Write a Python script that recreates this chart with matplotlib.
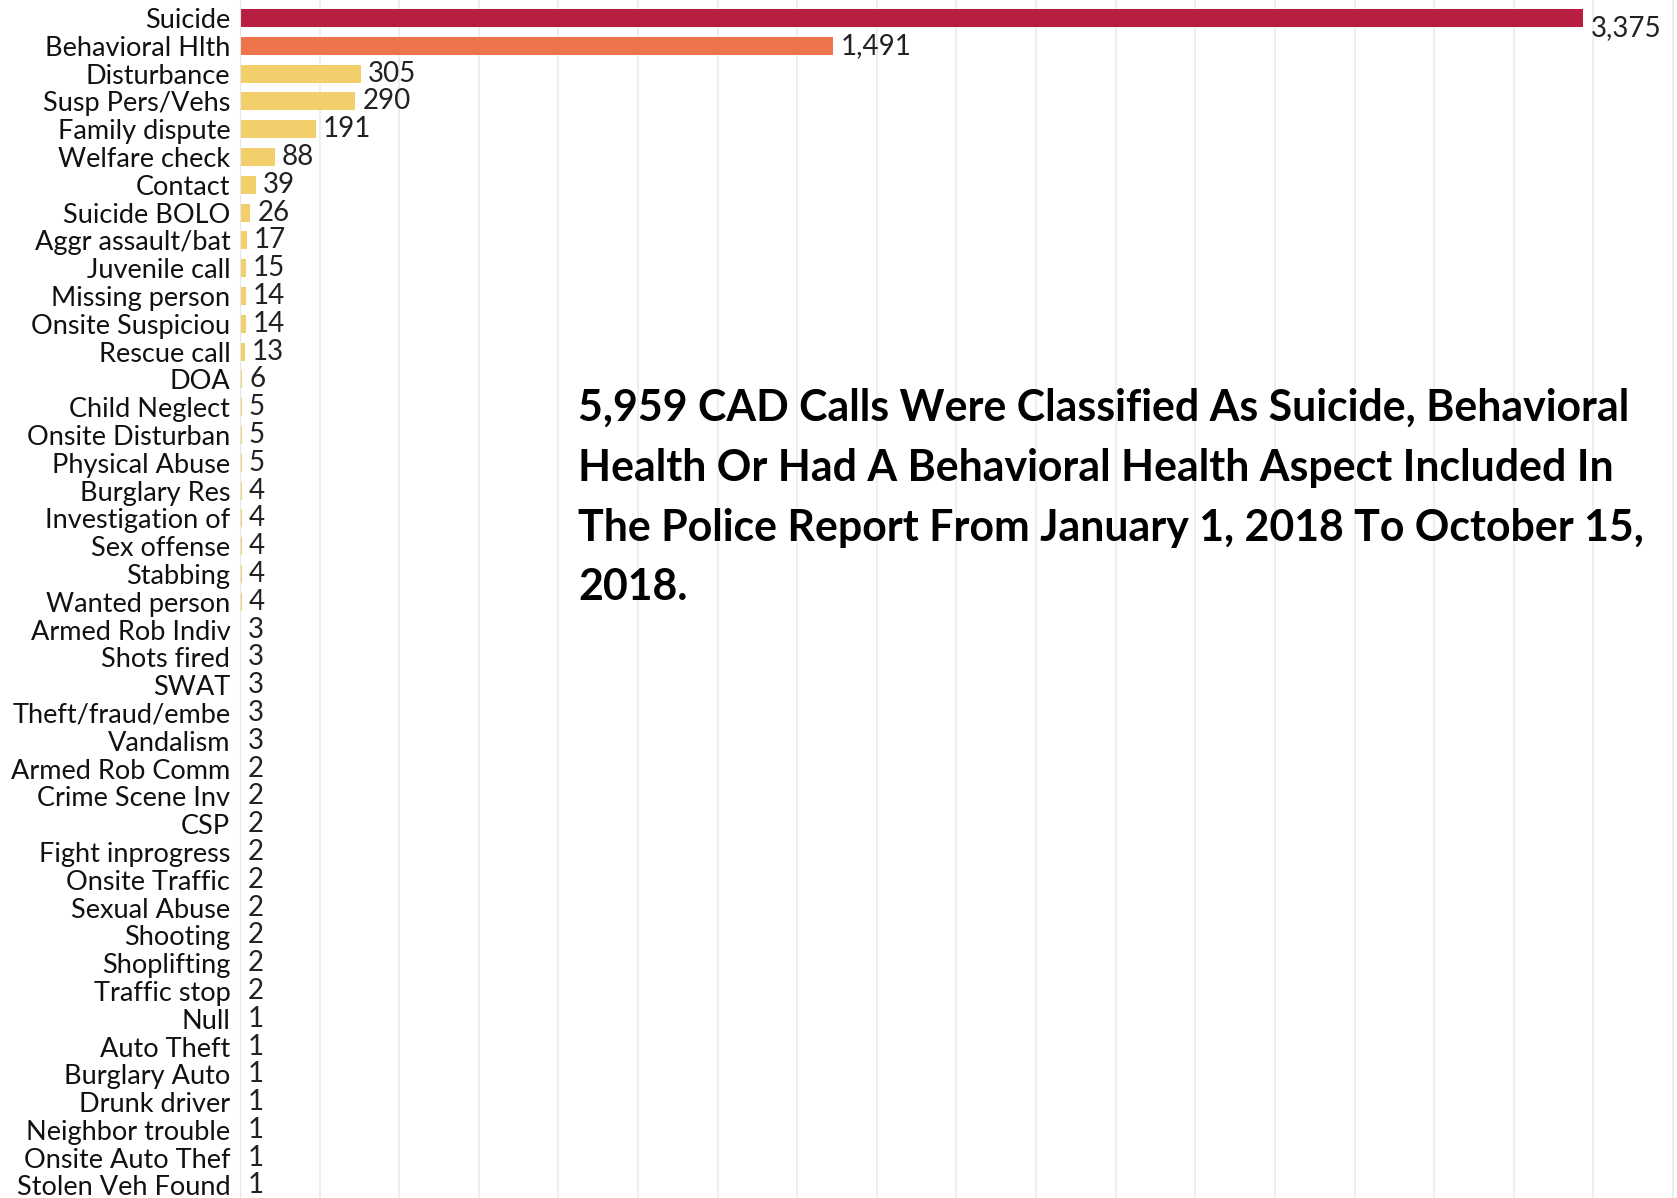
import matplotlib
matplotlib.use('Agg')
import matplotlib.pyplot as plt
import numpy as np

#============================================================
# CAD call types with a behavioral health aspect
#============================================================
categories = ['Suicide', 'Behavioral Hlth', 'Disturbance', 'Susp Pers/Vehs', 'Family dispute',
              'Welfare check', 'Contact', 'Suicide BOLO', 'Aggr assault/bat', 'Juvenile call',
              'Missing person', 'Onsite Suspiciou', 'Rescue call', 'DOA', 'Child Neglect',
              'Onsite Disturban', 'Physical Abuse', 'Burglary Res', 'Investigation of', 'Sex offense',
              'Stabbing', 'Wanted person', 'Armed Rob Indiv', 'Shots fired', 'SWAT',
              'Theft/fraud/embe', 'Vandalism', 'Armed Rob Comm', 'Crime Scene Inv', 'CSP',
              'Fight inprogress', 'Onsite Traffic', 'Sexual Abuse', 'Shooting', 'Shoplifting',
              'Traffic stop', 'Null', 'Auto Theft', 'Burglary Auto', 'Drunk driver',
              'Neighbor trouble', 'Onsite Auto Thef', 'Stolen Veh Found']
counts = [3375, 1491, 305, 290, 191, 88, 39, 26, 17, 15,
          14, 14, 13, 6, 5, 5, 5, 4, 4, 4,
          4, 4, 3, 3, 3, 3, 3, 2, 2, 2,
          2, 2, 2, 2, 2, 2, 1, 1, 1, 1,
          1, 1, 1]
title_lines = ['5,959 CAD Calls Were Classified As Suicide, Behavioral',
               'Health Or Had A Behavioral Health Aspect Included In',
               'The Police Report From January 1, 2018 To October 15,',
               '2018.']

COL_SUICIDE = '#b71e3f'
COL_BH = '#ee754b'
COL_OTHER = '#f2cf6a'

plt.rcParams['font.family'] = ['Lato', 'DejaVu Sans']

fig = plt.figure(figsize=(16.77, 11.98), dpi=100)
ax = fig.add_axes([0.1431, 0.0, 0.8569, 1.0])

y = np.arange(len(categories))
colors = [COL_SUICIDE, COL_BH] + [COL_OTHER] * (len(categories) - 2)
ax.barh(y, counts, height=0.65, color=colors, zorder=2)

for i, (yi, v) in enumerate(zip(y, counts)):
    # the top label sits a little lower, next to the bar end
    dy = -7 if i == 0 else 0
    ax.annotate(f'{v:,}', (v, yi), xytext=(5, dy), textcoords='offset points',
                va='center', ha='left', fontsize=20, color='#222222')

ax.set_yticks(y)
ax.set_yticklabels(categories, fontsize=19.5, color='#111111')
ax.tick_params(axis='y', length=0, pad=7)
ax.tick_params(axis='x', length=0, labelbottom=False)

ax.set_xlim(0, 3610)
ax.set_ylim(42.45, -0.65)
ax.set_xticks(np.arange(0, 3700, 200))
ax.grid(axis='x', color='#ebebeb', linewidth=1.2, zorder=0)
for s in ['top', 'right', 'bottom']:
    ax.spines[s].set_visible(False)
ax.spines['left'].set_color('#e6e6e6')

fig.text(578 / 1677, 1 - 388 / 1198, '\n'.join(title_lines), fontsize=30.9, fontweight='bold',
         color='black', ha='left', va='top', linespacing=1.6)

fig.savefig('out.png', dpi=100)
